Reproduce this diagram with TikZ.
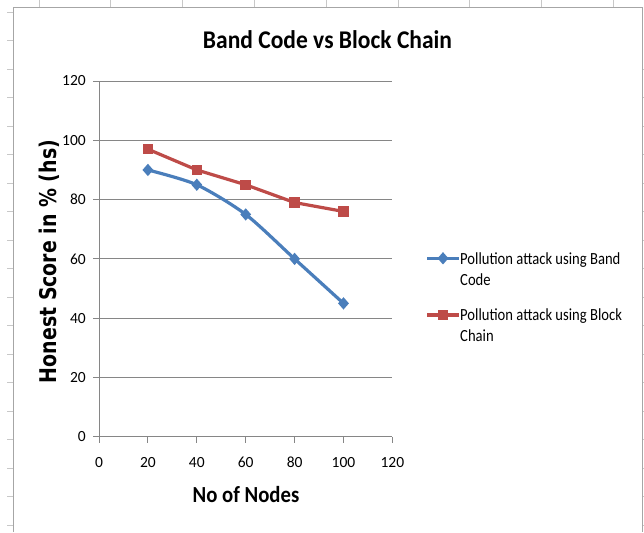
\documentclass[tikz,border=0pt]{standalone}
\usepackage{fontspec}
\usepackage{graphicx}
\setmainfont{Carlito}
\newfontfamily\axisfont{DejaVu Sans}
\usetikzlibrary{shapes.geometric}

\definecolor{bandblue}{HTML}{4A7EBB}
\definecolor{chainred}{HTML}{BE4B48}
\definecolor{gridgray}{HTML}{868686}
\definecolor{framegray}{HTML}{A6A6A6}
\definecolor{sheetgray}{HTML}{C8C8C8}

% stretch a label horizontally to a given width, keeping its height
\newcommand\fitwidth[2]{\resizebox{#1}{\height}{#2}}

\tikzset{
  sheettick/.style={draw=sheetgray, line width=0.8pt},
  frameline/.style={draw=framegray, line width=1pt},
  gridline/.style={draw=gridgray, line width=0.9pt},
  axisline/.style={draw=gridgray, line width=0.9pt},
  ticklabel/.style={inner sep=0pt, font=\fontsize{15.5}{18}\selectfont},
  bandline/.style={draw=bandblue, line width=3.2pt, line join=round, line cap=round},
  chainline/.style={draw=chainred, line width=3.2pt, line join=round, line cap=round},
  bandmark/.style={diamond, fill=bandblue, draw=none, inner sep=0pt,
    minimum width=11pt, minimum height=12.5pt},
  chainmark/.style={rectangle, fill=chainred, draw=none, inner sep=0pt,
    minimum size=10.5pt},
  legendtext/.style={inner sep=0pt, align=left,
    font=\fontsize{17}{21}\selectfont},
}

\begin{document}
\begin{tikzpicture}[x=1pt, y=-1pt]
\useasboundingbox (0,0) rectangle (644,532);
\fill[white] (0,0) rectangle (644,532);

% worksheet row and column marks around the chart
\foreach \i in {0,...,18}
  \draw[sheettick] (7,12+28.5*\i) -- (13.5,12+28.5*\i);
\foreach \i in {2,...,18}
  \draw[sheettick] (642,12+28.5*\i) -- (644,12+28.5*\i);
\foreach \i in {0,...,8}
  \draw[sheettick] (39+71.8*\i,0) -- (39+71.8*\i,7.5);

% chart area frame
\draw[frameline] (13.5,532) -- (13.5,7.5) -- (642,7.5) -- (642,532);

% title
\node[anchor=base, inner sep=0pt] (title) at (327.5,48.5)
  {\fitwidth{249pt}{\fontsize{25.5}{30}\selectfont\bfseries Band Code vs Block Chain}};

% plot area in data units
\begin{scope}[shift={(99,436.8)}, x=2.445pt, y=2.965pt]
  \foreach \v in {20,40,...,120}
    \draw[gridline] (0,\v) -- (120,\v);
  \draw[axisline] (0,0) -- (0,120);
  \draw[axisline] (0,0) -- (120,0);
  \foreach \v in {0,20,...,120} {
    \draw[axisline] (0,\v) -- ++(-6pt,0);
    \node[ticklabel, anchor=east, xshift=-13pt] (ylab\v) at (0,\v) {\v};
    \draw[axisline] (\v,0) -- ++(0,-6pt);
    \node[ticklabel, anchor=base, yshift=-31pt] (xlab\v) at (\v,0) {\v};
  }

  % series: band code
  \coordinate (b1) at (20,90);
  \coordinate (b2) at (40,85);
  \coordinate (b3) at (60,75);
  \coordinate (b4) at (80,60);
  \coordinate (b5) at (100,45);
  % series: block chain
  \coordinate (r1) at (20,97);
  \coordinate (r2) at (40,90);
  \coordinate (r3) at (60,85);
  \coordinate (r4) at (80,79);
  \coordinate (r5) at (100,76);

  \draw[chainline] (r1) -- (r2) -- (r3) -- (r4) -- (r5);
  \draw[bandline] plot[smooth, tension=0.45] coordinates {(b1) (b2) (b3) (b4) (b5)};
  \foreach \k in {1,...,5} {
    \node[chainmark] (rm\k) at (r\k) {};
    \node[bandmark] (bm\k) at (b\k) {};
  }
\end{scope}

% axis titles
\node[anchor=base, inner sep=0pt] (xtitle) at (246,502.3)
  {\fitwidth{106.6pt}{\fontsize{23}{28}\selectfont\bfseries No of Nodes}};
\node[rotate=90, anchor=base, inner sep=0pt] (ytitle) at (56.7,261.5)
  {\fitwidth{243pt}{\axisfont\bfseries\fontsize{23}{28}\selectfont Honest Score in \% (hs)}};

% legend
\coordinate (kb1) at (427,258.3);
\coordinate (kb2) at (459,258.3);
\draw[bandline, line cap=butt] (kb1) -- (kb2);
\node[bandmark] (kbm) at (443,258.3) {};
\node[legendtext, anchor=base west] (kbt1) at (460,264.3)
  {\scalebox{0.86}[1]{Pollution attack using Band}};
\node[legendtext, anchor=base west] (kbt2) at (460,285.3)
  {\scalebox{0.86}[1]{Code}};

\coordinate (kr1) at (427,315);
\coordinate (kr2) at (459,315);
\draw[chainline, line cap=butt] (kr1) -- (kr2);
\node[chainmark] (krm) at (443,315) {};
\node[legendtext, anchor=base west] (krt1) at (460,320.7)
  {\scalebox{0.86}[1]{Pollution attack using Block}};
\node[legendtext, anchor=base west] (krt2) at (460,341.7)
  {\scalebox{0.86}[1]{Chain}};
\end{tikzpicture}
\end{document}
